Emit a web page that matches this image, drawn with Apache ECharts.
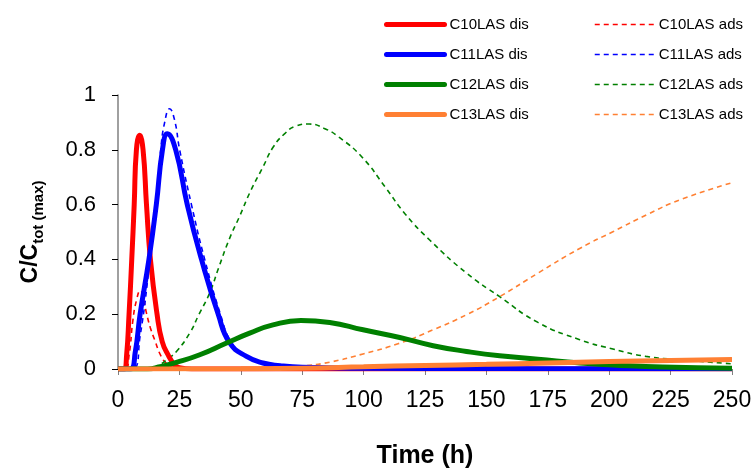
<!DOCTYPE html>
<html>
<head>
<meta charset="utf-8">
<script src="https://cdn.jsdelivr.net/npm/echarts@6/dist/echarts.min.js"></script>
<style>
html,body{margin:0;padding:0;background:#fff;}
#chart{width:755px;height:469px;}
</style>
</head>
<body>
<div id="chart"></div>
<script>
// ---- data (time in h, C/Ctot(max)) ----
var xTicks = [0, 25, 50, 75, 100, 125, 150, 175, 200, 225, 250];
var yTicks = [0, 0.2, 0.4, 0.6, 0.8, 1];

var c10DisT = [0, 2.5, 3.5, 4.5, 5.6, 6.6, 7.5, 8.8, 10.2, 11.6, 13.2, 15.9, 18, 20.5, 23, 25, 30, 250];
var c10DisY = [0, 0, 0.05, 0.2, 0.4, 0.6, 0.8, 0.853, 0.8, 0.6, 0.4, 0.2, 0.1, 0.05, 0.015, 0.005, 0, 0];

var c10AdsT = [0, 3, 4.5, 6.1, 7.5, 9.1, 10.3, 11.6, 13.2, 14.9, 17.6, 20.3, 23, 26, 250];
var c10AdsY = [0, 0, 0.05, 0.18, 0.25, 0.286, 0.26, 0.204, 0.15, 0.107, 0.046, 0.016, 0.005, 0, 0];

var c11DisT = [0, 5, 7, 9, 12.6, 15.6, 18.1, 20.1, 23.5, 28.2, 34, 40.8, 45.5, 52.3, 59, 66, 75, 100, 150, 250];
var c11DisY = [0, 0, 0.06, 0.2, 0.4, 0.6, 0.8, 0.859, 0.8, 0.6, 0.4, 0.2, 0.095, 0.046, 0.022, 0.012, 0.006, 0.003, 0.002, 0.001];

var c11AdsT = [0, 6, 9, 12.8, 15.6, 17.4, 19, 21, 23, 25.1, 29.9, 35.3, 41.7, 46, 52, 59, 66, 75, 100, 250];
var c11AdsY = [0, 0, 0.12, 0.38, 0.6, 0.8, 0.9, 0.95, 0.91, 0.8, 0.6, 0.4, 0.2, 0.1, 0.048, 0.022, 0.012, 0.006, 0.003, 0.001];

var c12DisT = [0, 12, 17, 23.8, 33.3, 44.2, 53.6, 63.1, 74.5, 86.2, 99.8, 114.7, 128.3, 141.9, 155.4, 171, 188, 201.5, 221.8, 250];
var c12DisY = [0, 0, 0.008, 0.024, 0.052, 0.095, 0.131, 0.161, 0.177, 0.17, 0.143, 0.115, 0.085, 0.064, 0.048, 0.036, 0.022, 0.015, 0.007, 0.003];

var c12AdsT = [0, 12, 17, 20, 23.8, 29.2, 33, 37.3, 41, 45.4, 49.4, 54, 58.9, 63.2, 68, 72, 77.8, 84, 90, 99.4, 108.8, 117, 127, 141.9, 155.4, 171, 188, 201.5, 215, 228.7, 250];
var c12AdsY = [0, 0, 0.016, 0.035, 0.064, 0.131, 0.2, 0.277, 0.37, 0.476, 0.555, 0.65, 0.735, 0.81, 0.86, 0.885, 0.894, 0.878, 0.846, 0.773, 0.664, 0.565, 0.47, 0.35, 0.264, 0.17, 0.107, 0.073, 0.046, 0.034, 0.019];

var c13DisT = [0, 50, 75, 100, 125, 150, 175, 200, 225, 250];
var c13DisY = [0, 0.001, 0.003, 0.008, 0.013, 0.017, 0.022, 0.027, 0.031, 0.035];

var c13AdsT = [0, 50, 60, 67, 74.7, 86.2, 99.8, 114, 128.3, 141.9, 155.4, 171, 188, 201.5, 215.1, 228.7, 250];
var c13AdsY = [0, 0, 0.002, 0.005, 0.01, 0.025, 0.055, 0.092, 0.143, 0.198, 0.264, 0.35, 0.44, 0.501, 0.562, 0.617, 0.68];

var disNames = ['C10LAS dis', 'C11LAS dis', 'C12LAS dis', 'C13LAS dis'];
var adsNames = ['C10LAS ads', 'C11LAS ads', 'C12LAS ads', 'C13LAS ads'];
var colors = ['#ff0000', '#0000ff', '#008000', '#ff8033'];

function pairs(t, y) { return t.map(function (v, i) { return [v, y[i]]; }); }

var disData = [pairs(c10DisT, c10DisY), pairs(c11DisT, c11DisY), pairs(c12DisT, c12DisY), pairs(c13DisT, c13DisY)];
var adsData = [pairs(c10AdsT, c10AdsY), pairs(c11AdsT, c11AdsY), pairs(c12AdsT, c12AdsY), pairs(c13AdsT, c13AdsY)];

var FONT = "'Liberation Sans', Arial, sans-serif";
var series = [];
for (var i = 0; i < 4; i++) {
  series.push({
    name: adsNames[i], type: 'line', data: adsData[i], symbol: 'none', showSymbol: false, smooth: 0.5, z: 2,
    lineStyle: { color: colors[i], width: 1.6, type: [5, 4] }, itemStyle: { color: colors[i] }
  });
}
for (var j = 0; j < 4; j++) {
  series.push({
    name: disNames[j], type: 'line', data: disData[j], symbol: 'none', showSymbol: false, smooth: 0.5,
    z: 3 + (j === 3 ? 1 : 0),
    lineStyle: { color: colors[j], width: 5 }, itemStyle: { color: colors[j] }
  });
}

var chart = echarts.init(document.getElementById('chart'), null, { renderer: 'canvas' });
chart.setOption({
  animation: false,
  backgroundColor: '#ffffff',
  textStyle: { fontFamily: FONT },
  grid: { left: 118, right: 23, top: 95, bottom: 100, containLabel: false, outerBoundsMode: 'none' },
  legend: [
    {
      data: disNames, orient: 'vertical', left: 379, top: 12, itemWidth: 58, itemHeight: 14, itemGap: 15,
      itemStyle: { opacity: 0 }, lineStyle: { width: 5, cap: 'round' },
      textStyle: { fontSize: 15, color: '#000', fontFamily: FONT }, selectedMode: false
    },
    {
      data: adsNames, orient: 'vertical', left: 589, top: 12, itemWidth: 59, itemHeight: 14, itemGap: 15,
      itemStyle: { opacity: 0 }, lineStyle: { width: 1.5, type: [5, 4] },
      textStyle: { fontSize: 15, color: '#000', fontFamily: FONT }, selectedMode: false
    }
  ],
  xAxis: {
    type: 'value', min: 0, max: 250, interval: 25,
    name: 'Time (h)', nameLocation: 'middle', nameGap: 75,
    nameTextStyle: { fontSize: 25, fontWeight: 'bold', color: '#000', fontFamily: FONT },
    axisLine: { show: true, onZero: false, lineStyle: { color: '#808080', width: 1 } },
    axisTick: { show: true, length: 6, lineStyle: { color: '#808080' } },
    axisLabel: { fontSize: 23, color: '#000', margin: 20, fontFamily: FONT,
      formatter: function (v) { return xTicks.indexOf(v) >= 0 ? String(v) : ''; } },
    splitLine: { show: false }
  },
  yAxis: {
    type: 'value', min: 0, max: 1, interval: 0.2,
    name: '{a|C/C}{b|tot (max)}', nameLocation: 'middle', nameGap: 72,
    nameTextStyle: {
      fontFamily: FONT,
      rich: {
        a: { fontSize: 23, fontWeight: 'bold', color: '#000', lineHeight: 30, verticalAlign: 'middle', fontFamily: FONT },
        b: { fontSize: 15, fontWeight: 'bold', color: '#000', lineHeight: 15, verticalAlign: 'bottom', fontFamily: FONT }
      }
    },
    axisLine: { show: true, lineStyle: { color: '#808080', width: 1.5 } },
    axisTick: { show: true, length: 6, lineStyle: { color: '#000' } },
    axisLabel: { fontSize: 22, color: '#000', margin: 22, fontFamily: FONT,
      formatter: function (v) { var k = yTicks.indexOf(Math.round(v * 10) / 10); return k >= 0 ? String(yTicks[k]) : ''; } },
    splitLine: { show: false }
  },
  series: series
});
</script>
</body>
</html>
